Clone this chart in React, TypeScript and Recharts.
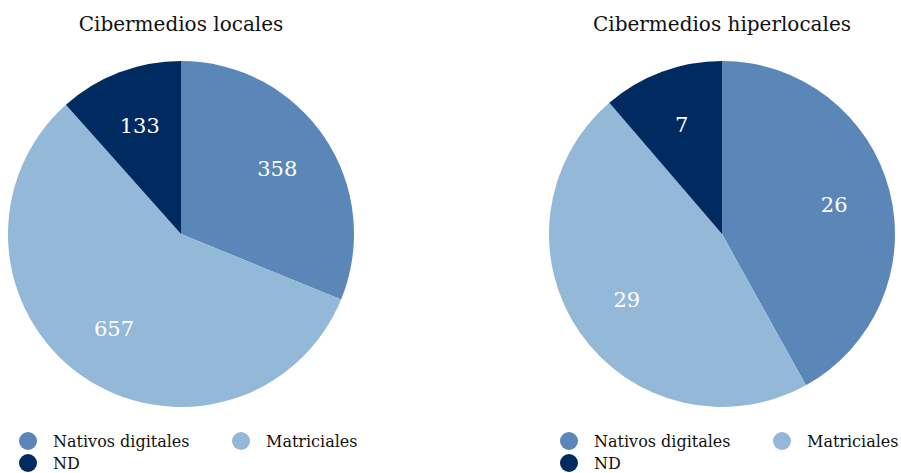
import React from "react";
import { PieChart, Pie, Cell } from "recharts";

const categories = ["Nativos digitales", "Matriciales", "ND"];
const colors = ["#5b86b8", "#93b8d8", "#002b61"];
const localesValues = [358, 657, 133];
const hiperlocalesValues = [26, 29, 7];
const titles = ["Cibermedios locales", "Cibermedios hiperlocales"];

const FONT = "'DejaVu Serif', serif";
const RADIAN = Math.PI / 180;

const toData = (values: number[]) =>
  categories.map((name, i) => ({ name, value: values[i] }));

const renderLabel = (props: any) => {
  const { cx, cy, midAngle, outerRadius, value } = props;
  const r = outerRadius * 0.67;
  const x = cx + r * Math.cos(-midAngle * RADIAN);
  const y = cy + r * Math.sin(-midAngle * RADIAN);
  return (
    <text x={x} y={y} fill="#ffffff" textAnchor="middle" dominantBaseline="central"
      fontSize={21} style={{ fontFamily: FONT }}>
      {value}
    </text>
  );
};

const PieBlock = ({ title, values, left }: { title: string; values: number[]; left: number }) => (
  <div style={{ position: "absolute", left, top: 0, width: 362, height: 473 }}>
    <PieChart width={362} height={420} margin={{ top: 0, right: 0, bottom: 0, left: 0 }}>
      <text x={181} y={24} textAnchor="middle" dominantBaseline="central" fontSize={20}
        style={{ fontFamily: FONT }} fill="#111">
        {title}
      </text>
      <Pie
        data={toData(values)}
        dataKey="value"
        nameKey="name"
        cx={181}
        cy={234}
        outerRadius={173}
        startAngle={90}
        endAngle={-270}
        stroke="none"
        labelLine={false}
        label={renderLabel}
        isAnimationActive={false}
      >
        {categories.map((c, i) => (
          <Cell key={c} fill={colors[i]} />
        ))}
      </Pie>
    </PieChart>
    <div style={{ position: "absolute", left: 0, top: 429, width: 400, fontFamily: FONT, fontSize: 16, color: "#111" }}>
      {categories.map((c, i) => (
        <div key={c} style={{
          position: "absolute",
          left: i === 1 ? 232 : 19,
          top: i === 2 ? 22 : 0,
          display: "flex",
          alignItems: "center",
          height: 24,
          whiteSpace: "nowrap",
        }}>
          <span style={{ width: 18, height: 18, borderRadius: 9, background: colors[i], display: "inline-block", marginRight: 16 }} />
          <span>{c}</span>
        </div>
      ))}
    </div>
  </div>
);

export default function App() {
  return (
    <div style={{ position: "absolute", left: 0, top: 0, width: 901, height: 473, background: "#fff", overflow: "hidden" }}>
      <PieBlock title={titles[0]} values={localesValues} left={0} />
      <PieBlock title={titles[1]} values={hiperlocalesValues} left={541} />
    </div>
  );
}
